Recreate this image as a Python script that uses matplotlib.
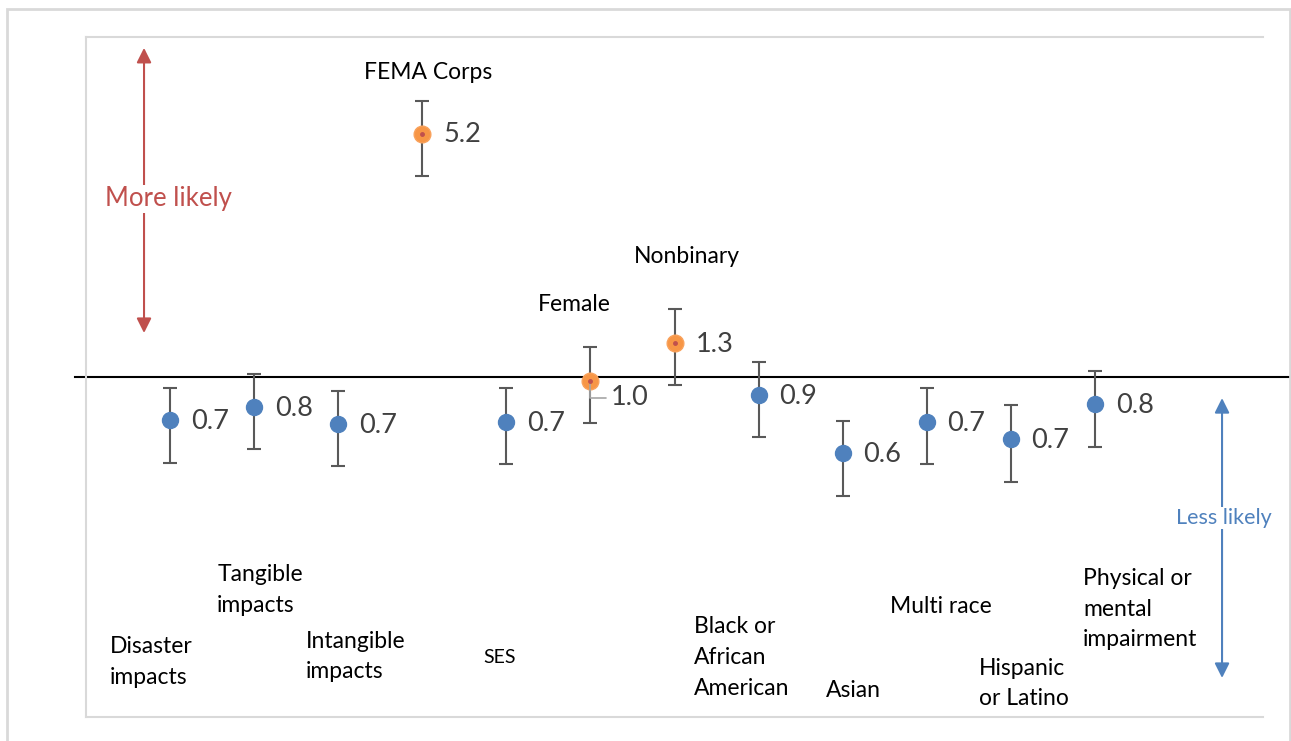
import matplotlib.pyplot as plt
import matplotlib.transforms as mtransforms
from matplotlib.patches import Rectangle

plt.rcParams['font.family'] = ['Lato', 'DejaVu Sans']

categories = ["Disaster\nimpacts", "Tangible\nimpacts", "Intangible\nimpacts", "FEMA Corps",
              "SES", "Female", "Nonbinary", "Black or\nAfrican\nAmerican", "Asian",
              "Multi race", "Hispanic\nor Latino", "Physical or\nmental\nimpairment"]
odds = [0.747, 0.817, 0.727, 5.2, 0.738, 0.973, 1.262, 0.885, 0.596, 0.738, 0.658, 0.833]
ci_low = [0.559, 0.614, 0.546, 3.90, 0.555, 0.730, 0.945, 0.667, 0.446, 0.553, 0.491, 0.622]
ci_high = [0.930, 1.018, 0.908, 6.49, 0.930, 1.223, 1.583, 1.109, 0.742, 0.930, 0.827, 1.044]
orange = [False, False, False, True, False, True, True, False, False, False, False, False]

# label layout: (x offset from category, y in axes fraction, alignment)
label_pos = [(-0.714, 0.081, 'left'), (-0.44, 0.187, 'left'), (-0.39, 0.089, 'left'),
             (0.07, 0.9485, 'center'), (-0.27, 0.088, 'left'), (-0.62, 0.607, 'left'),
             (-0.48, 0.6765, 'left'), (-0.77, 0.088, 'left'), (-0.2, 0.0397, 'left'),
             (-0.44, 0.162, 'left'), (-0.38, 0.0493, 'left'), (-0.14, 0.1588, 'left')]

fig = plt.figure(figsize=(12.91, 7.41), dpi=100)
ax = fig.add_axes([86 / 1291, 24 / 741, 1177 / 1291, 680 / 741])
ax.set_yscale('log')
ax.set_ylim(0.1, 10)
ax.set_xlim(0, 14)
ax.set_xticks([])
ax.set_yticks([])
ax.yaxis.set_minor_locator(plt.NullLocator())
for side in ['left', 'top', 'bottom']:
    ax.spines[side].set_color('#d9d9d9')
    ax.spines[side].set_linewidth(1.5)
ax.spines['right'].set_visible(False)

# reference line at OR = 1
tr = mtransforms.blended_transform_factory(ax.transAxes, ax.transData)
ax.plot([-0.0093, 1.024], [1, 1], color='black', lw=1.5, transform=tr, clip_on=False, zorder=1)

xs = list(range(1, len(categories) + 1))
for i, x in enumerate(xs):
    err = [[odds[i] - ci_low[i]], [ci_high[i] - odds[i]]]
    ax.errorbar([x], [odds[i]], yerr=err, fmt='none', ecolor='#595959', elinewidth=1.5,
                capsize=5, capthick=1.5, zorder=2)
    if orange[i]:
        ax.plot(x, odds[i], 'o', ms=12, color='#f79646', mec='#f9a25c', zorder=3)
        ax.plot(x, odds[i], 'o', ms=2.5, color='#c0504d', zorder=4)
    else:
        ax.plot(x, odds[i], 'o', ms=11.5, color='#4f81bd', mec='#4f81bd', zorder=3)
    lab = f"{odds[i]:.1f}"
    if categories[i] == "Female":
        ax.annotate(lab, xy=(x, odds[i]), xytext=(15, -12), textcoords='offset points',
                    fontsize=19.5, color='#404040', va='center', ha='left',
                    arrowprops=dict(arrowstyle='-', color='#a6a6a6', lw=1.2,
                                    connectionstyle='angle,angleA=0,angleB=90,rad=0',
                                    relpos=(0, 0.5), shrinkA=2, shrinkB=0))
    else:
        ax.annotate(lab, xy=(x, odds[i]), xytext=(15, -1), textcoords='offset points',
                    fontsize=19.5, color='#404040', va='center', ha='left')

tl = mtransforms.blended_transform_factory(ax.transData, ax.transAxes)
for i, x in enumerate(xs):
    dx, yy, ha = label_pos[i]
    fs = 14 if categories[i] == "SES" else 16.5
    ax.text(x + dx, yy, categories[i], transform=tl, ha=ha, va='center', fontsize=fs,
            color='black', linespacing=1.58)

# direction arrows
ax.annotate('', xy=(0.0493, 0.984), xytext=(0.0493, 0.5647), xycoords='axes fraction',
            arrowprops=dict(arrowstyle='<|-|>', color='#c0504d', lw=1.5, mutation_scale=22,
                            shrinkA=0, shrinkB=0))
ax.text(0.0697, 0.7618, 'More likely', transform=ax.transAxes, ha='center', va='center',
        fontsize=18.5, color='#c0504d', bbox=dict(facecolor='white', edgecolor='none', pad=1))
ax.annotate('', xy=(0.9652, 0.469), xytext=(0.9652, 0.0574), xycoords='axes fraction',
            arrowprops=dict(arrowstyle='<|-|>', color='#4f81bd', lw=1.5, mutation_scale=22,
                            shrinkA=0, shrinkB=0))
ax.text(0.9669, 0.2926, 'Less likely', transform=ax.transAxes, ha='center', va='center',
        fontsize=15.5, color='#4f81bd', bbox=dict(facecolor='white', edgecolor='none', pad=1))

fig.patches.append(Rectangle((7 / 1291, -0.02), 1283 / 1291, (741 - 9) / 741 + 0.02,
                             transform=fig.transFigure, fill=False, edgecolor='#d9d9d9', lw=2))

fig.savefig('out.png', dpi=100)
